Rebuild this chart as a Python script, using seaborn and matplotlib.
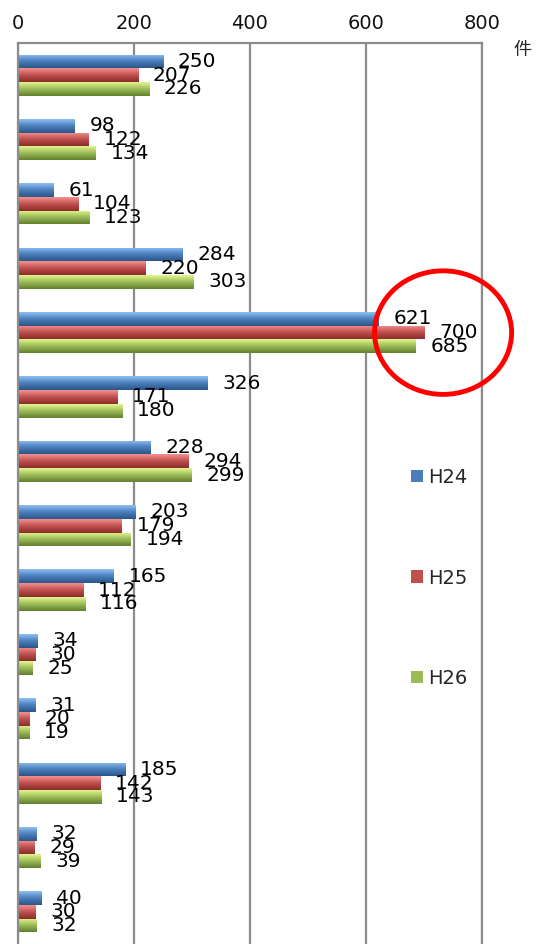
import numpy as np
import pandas as pd
import matplotlib
matplotlib.use("Agg")
import matplotlib.pyplot as plt
import matplotlib.colors as mcolors
from matplotlib.patches import Ellipse
import seaborn as sns

categories = [f"項目{i}" for i in range(1, 15)]
series = ["H24", "H25", "H26"]
h24 = [250, 98, 61, 284, 621, 326, 228, 203, 165, 34, 31, 185, 32, 40]
h25 = [207, 122, 104, 220, 700, 171, 294, 179, 112, 30, 20, 142, 29, 30]
h26 = [226, 134, 123, 303, 685, 180, 299, 194, 116, 25, 19, 143, 39, 32]
x_ticks = [0, 200, 400, 600, 800]
unit_label = "件"

base_colors = {"H24": "#4a7ebb", "H25": "#c0504d", "H26": "#9bbb59"}
light_colors = {"H24": "#8ec0f5", "H25": "#f59090", "H26": "#e4f78a"}
dark_colors = {"H24": "#2b5688", "H25": "#8a2c2a", "H26": "#62802c"}

df = pd.DataFrame({
    "category": categories * 3,
    "series": sum([[s] * len(categories) for s in series], []),
    "value": h24 + h25 + h26,
})

sns.set_theme(style="white")
plt.rcParams["font.family"] = ["DejaVu Sans", "Noto Sans CJK JP"]

fig = plt.figure(figsize=(5.36, 9.44), dpi=100)
ax = fig.add_axes([17.5 / 536, 0.0, (482 - 17.5) / 536, 1 - 43 / 944])

sns.barplot(data=df, y="category", x="value", hue="series", order=categories,
            hue_order=series, palette=base_colors, orient="h", width=0.64,
            ax=ax, legend=True, saturation=1, edgecolor="none")

ax.set_xlim(0, 800)
ax.set_ylim(len(categories) - 0.5, -0.5)
ax.set_xticks(x_ticks)
ax.xaxis.tick_top()
ax.tick_params(axis="x", length=0, labelsize=14, pad=7, labelcolor="#111111")
ax.set_yticks([])
ax.set_xlabel("")
ax.set_ylabel("")
ax.grid(axis="x", color="#8c8c8c", linewidth=1.6)
ax.grid(axis="y", visible=False)
for side in ["top", "left", "right"]:
    ax.spines[side].set_color("#8c8c8c")
    ax.spines[side].set_linewidth(1.6)
ax.spines["bottom"].set_visible(False)
ax.set_axisbelow(True)

# gradient bevel on each bar
for cont, s in zip(ax.containers, series):
    cmap = mcolors.LinearSegmentedColormap.from_list(
        s, [light_colors[s], base_colors[s], dark_colors[s]])
    grad = np.linspace(0, 1, 64).reshape(-1, 1)
    for patch, val in zip(cont.patches, cont.datavalues):
        x0, y0 = patch.get_x(), patch.get_y()
        w, h = patch.get_width(), patch.get_height()
        im = ax.imshow(grad, cmap=cmap, aspect="auto",
                       extent=[x0, x0 + w, y0 + h, y0], zorder=2,
                       interpolation="bicubic")
        im.set_clip_path(patch)
        ax.annotate(f"{int(val)}", xy=(x0 + w, y0 + h / 2), xytext=(11, 0),
                    textcoords="offset points", ha="left", va="center",
                    fontsize=14.5, color="black", zorder=5)

ax.set_xlim(0, 800)
ax.set_ylim(len(categories) - 0.5, -0.5)

# legend
handles, labels = ax.get_legend_handles_labels()
ax.get_legend().remove()
leg = fig.legend(handles, labels, loc="center left",
                 bbox_to_anchor=(411 / 536, 1 - 578 / 944),
                 frameon=False, fontsize=14, handlelength=0.6,
                 handleheight=0.6, handletextpad=0.3, labelspacing=4.2,
                 borderpad=0, borderaxespad=0)

# highlight circle
circle = Ellipse((733, 4), width=236, height=1.92, fill=False,
                 edgecolor="#ff0000", linewidth=3.5, clip_on=False, zorder=6)
ax.add_patch(circle)

fig.text(522 / 536, 1 - 50 / 944, unit_label, fontsize=13,
         ha="center", va="center", family=["Noto Sans CJK JP", "DejaVu Sans"])

fig.savefig("out.png", dpi=100)
